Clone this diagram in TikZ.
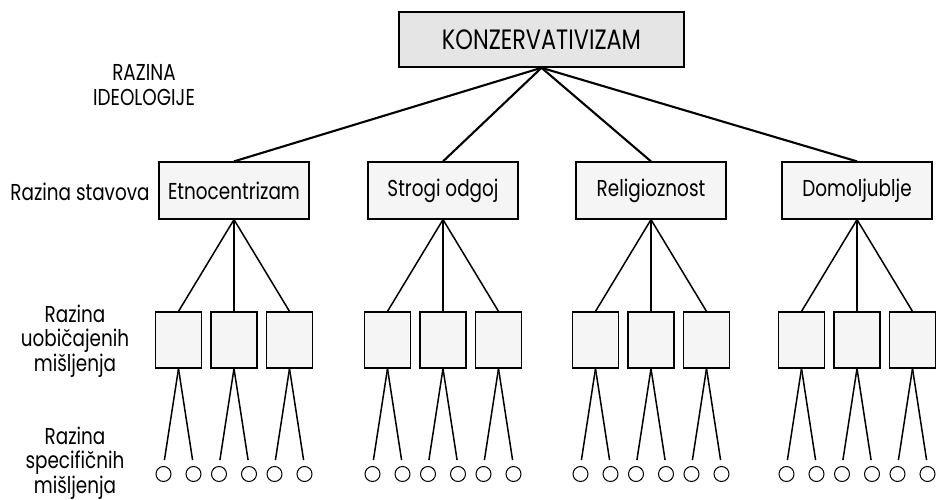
\documentclass[tikz,border=0pt]{standalone}
\usepackage{fontspec}
\setmainfont{Poppins}[FakeStretch=0.8]
\usetikzlibrary{positioning}
\tikzset{
  razina/.style={font=\fontsize{23}{24.5}\selectfont, align=center, inner sep=0pt},
  ideobox/.style={draw, line width=1.6pt, fill=black!10, minimum width=285pt, minimum height=55pt, font=\fontsize{28}{30}\selectfont},
  stavbox/.style={draw, line width=1.2pt, fill=black!4, minimum width=150pt, minimum height=57pt, font=\fontsize{23}{26}\selectfont},
  misbox/.style={draw, line width=1.2pt, fill=black!4, minimum width=46pt, minimum height=56pt},
  spec/.style={draw, circle, line width=1pt, minimum size=15pt, inner sep=0pt},
  link/.style={line width=2.1pt},
  twig/.style={line width=1.5pt}
}

\begin{document}
\begin{tikzpicture}[x=1pt,y=-1pt]
    \useasboundingbox (0,0) rectangle (938,500);
    % left column: level names
    \node[razina] (lvlideo) at (144,85) {RAZINA\\IDEOLOGIJE};
    \node[razina] (lvlstav) at (80,192) {Razina stavova};
    \node[razina] (lvlmis) at (75,341) {Razina\\uobičajenih\\mišljenja};
    \node[razina] (lvlspec) at (75,463) {Razina\\specifičnih\\mišljenja};
    % ideology
    \node[ideobox] (konz) at (541.5,39.5) {KONZERVATIVIZAM};
    % attitudes, habitual and specific opinions
    \foreach \name/\x/\txt in {etno/234/Etnocentrizam, strogi/443/Strogi odgoj, relig/651/Religioznost, domo/857/Domoljublje} {
        \node[stavbox] (\name) at (\x,190.5) {\txt};
        \draw[link] (konz.south) -- (\name.north);
        \foreach \j/\dx in {1/-55.5, 2/0, 3/55.5} {
            \node[misbox] (\name\j) at (\x+\dx,340) {};
            \draw[twig] (\name.south) -- (\name\j.north);
            \node[spec] (\name\j a) at (\x+\dx-15,474) {};
            \node[spec] (\name\j b) at (\x+\dx+15,474) {};
            \draw[twig,shorten >=6pt] (\name\j.south) -- (\name\j a.north);
            \draw[twig,shorten >=6pt] (\name\j.south) -- (\name\j b.north);
        }
    }
\end{tikzpicture}
\end{document}
